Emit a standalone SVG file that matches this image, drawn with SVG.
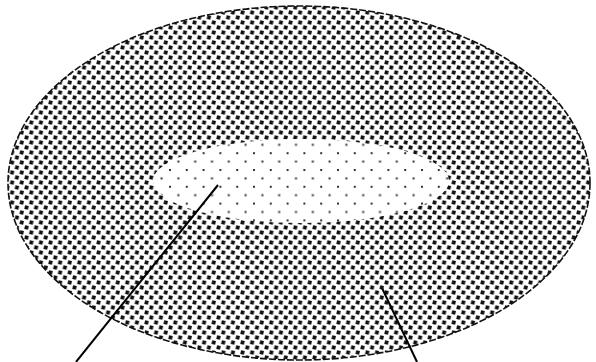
<svg xmlns="http://www.w3.org/2000/svg" width="596" height="362" viewBox="0 0 596 362">
<defs>
<pattern id="dense" x="0" y="0" width="9.6" height="10" patternUnits="userSpaceOnUse">
<rect width="9.6" height="10" fill="#fff"/>
<rect x="0.6" y="0.6" width="3.8" height="3.8" fill="#111" transform="rotate(12 2.5 2.5)"/>
<rect x="5.4" y="5.6" width="3.8" height="3.8" fill="#111" transform="rotate(12 7.3 7.5)"/>
</pattern>
<pattern id="sparse" x="0" y="0" width="16.8" height="16.8" patternUnits="userSpaceOnUse">
<rect width="16.8" height="16.8" fill="#fff"/>
<rect x="1" y="1" width="2" height="2" fill="#333"/>
<rect x="9.4" y="9.4" width="2" height="2" fill="#333"/>
</pattern>
<style>
.conn { stroke:#000; stroke-width:2; fill:none; }
</style>
</defs>
<g id="outer">
<ellipse cx="299" cy="183" rx="291" ry="177" fill="url(#dense)" stroke="#111" stroke-width="1.6" stroke-dasharray="7 2"/>
</g>
<g id="inner">
<ellipse cx="301" cy="181" rx="148" ry="42" fill="url(#sparse)"/>
</g>
<g id="connectors">
<line class="conn" x1="218" y1="185" x2="76" y2="362"/>
<line class="conn" x1="382" y1="288" x2="417" y2="362"/>
</g>
</svg>
